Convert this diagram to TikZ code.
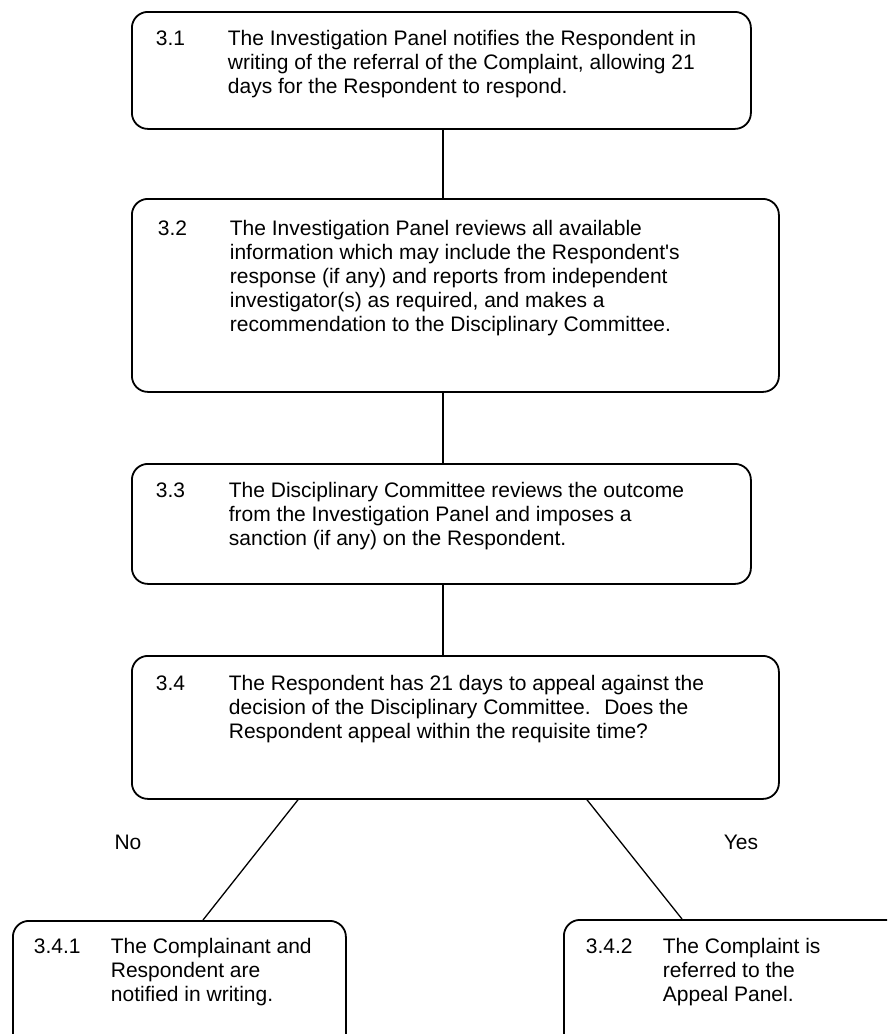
\documentclass[tikz,border=0pt]{standalone}
\usepackage{fontspec}
\setmainfont{Liberation Sans}
% number column + wrapped text, baseline on the first line
\newcommand{\steptext}[4]{\parbox[t]{#1}{\raggedright\makebox[#2][l]{#3}\parbox[t]{\dimexpr#1-#2\relax}{\raggedright #4}}}
\begin{document}
\begin{tikzpicture}[x=1pt,y=-1pt]
\tikzstyle{box} = [draw, rounded corners=16, line width=1.8, anchor=north west,
                   inner xsep=24, inner ysep=0, font=\fontsize{21}{24}\selectfont]
\tikzstyle{answer} = [inner sep=0, font=\fontsize{21}{24}\selectfont]
\tikzstyle{link} = [line width=1.3]
\useasboundingbox (0,0) rectangle (887,1034);
\clip (0,0) rectangle (887,1034);
\node [box, text height=34, text depth=83] (s1) at (131,11)
  {\steptext{571pt}{72pt}{3.1}{The Investigation Panel notifies the Respondent in\\
   writing of the referral of the Complaint, allowing 21\\ days for the Respondent to respond.}};
\node [box, inner xsep=26, text height=37, text depth=156] (s2) at (131,198)
  {\steptext{595pt}{72pt}{3.2}{The Investigation Panel reviews all available\\
   information which may include the Respondent\textquotesingle s\\ response (if any) and reports from independent\\
   investigator(s) as required, and makes a\\ recommendation to the Disciplinary Committee.}};
\node [box, text height=34, text depth=86] (s3) at (131,463)
  {\steptext{571pt}{73pt}{3.3}{The Disciplinary Committee reviews the outcome\\
   from the Investigation Panel and imposes a\\ sanction (if any) on the Respondent.}};
\node [box, text height=35, text depth=108] (s4) at (131,655)
  {\steptext{599pt}{73pt}{3.4}{The Respondent has 21 days to appeal against the\\
   decision of the Disciplinary Committee.~ Does the\\ Respondent appeal within the requisite time?}};
\node [box, inner xsep=21, text height=33, text depth=150] (s5) at (12,920)
  {\steptext{291pt}{77pt}{3.4.1}{The Complainant and\\ Respondent are\\ notified in writing.}};
\node [box, inner xsep=22, text height=34, text depth=150] (s6) at (563,919)
  {\steptext{356pt}{77pt}{3.4.2}{The Complaint is\\ referred to the\\ Appeal Panel.}};
\node [answer] (no) at (128,842) {No};
\node [answer] (yes) at (741,842) {Yes};
\draw [link] ([xshift=312]s1.south west) -- ([xshift=312]s2.north west);
\draw [link] ([xshift=312]s2.south west) -- ([xshift=312]s3.north west);
\draw [link] ([xshift=312]s3.south west) -- ([xshift=312]s4.north west);
\draw [link] ([xshift=167]s4.south west) -- ([xshift=191]s5.north west);
\draw [link] ([xshift=456]s4.south west) -- ([xshift=119]s6.north west);
\end{tikzpicture}
\end{document}
